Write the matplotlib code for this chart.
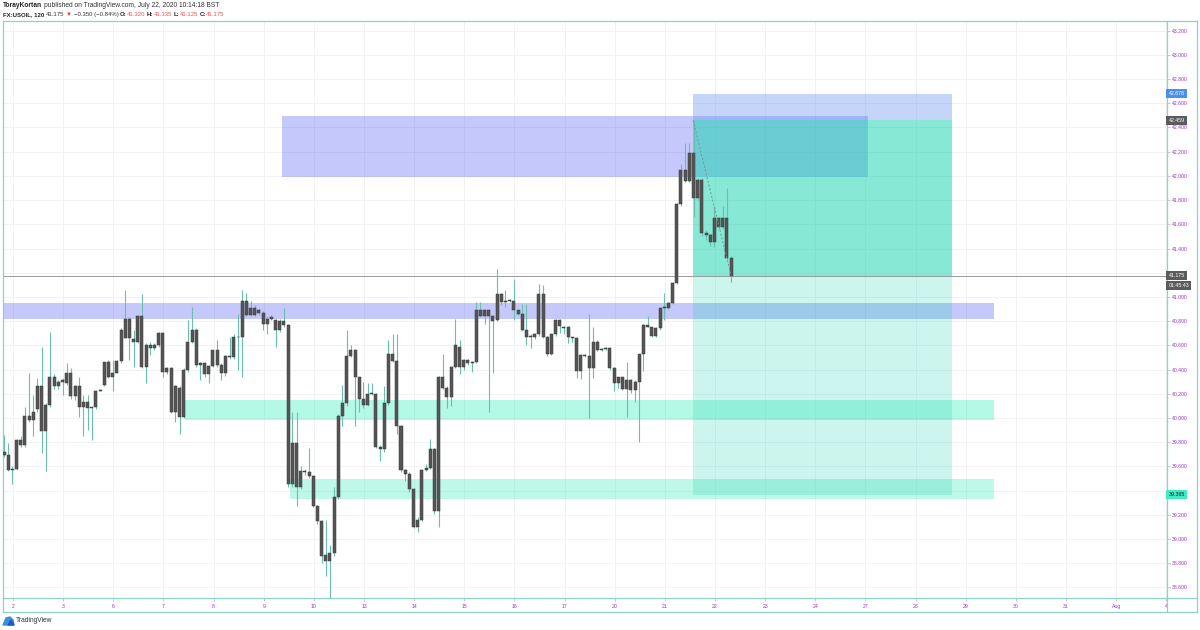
import matplotlib
matplotlib.use("Agg")
import matplotlib.pyplot as plt
import matplotlib.transforms as mtransforms
from matplotlib.patches import Rectangle, Polygon
from matplotlib.lines import Line2D
import numpy as np

# ---------------- data (FX:USOIL, 120 min candles) ----------------
opens = [39.72, 39.69, 39.57, 39.58, 39.82, 39.78, 40.02, 39.98, 40.07, 40.26,
         39.89, 40.11, 40.34, 40.26, 40.30, 40.29, 40.37, 40.18, 40.26, 40.09,
         40.13, 40.08, 40.09, 40.22, 40.27, 40.46, 40.34, 40.37, 40.47, 40.66,
         40.82, 40.65, 40.63, 40.84, 40.42, 40.60, 40.58, 40.60, 40.70, 40.38,
         40.41, 40.05, 40.25, 40.01, 40.40, 40.63, 40.73, 40.44, 40.45, 40.36,
         40.43, 40.56, 40.44, 40.37, 40.51, 40.50, 40.67, 40.67, 40.97, 40.85,
         40.91, 40.865, 40.87, 40.78, 40.82, 40.81, 40.73, 40.80, 40.77, 39.45,
         39.79, 39.43, 39.56, 39.55, 39.52, 39.27, 39.15, 38.87, 38.82, 38.88,
         39.35, 40.02, 40.12, 40.51, 40.56, 40.34, 40.16, 40.11, 40.20, 40.20,
         39.76, 39.74, 40.12, 40.53, 40.47, 39.93, 39.57, 39.54, 39.41, 39.10,
         39.16, 39.57, 39.59, 39.74, 39.23, 40.34, 40.25, 40.17, 40.42, 40.59,
         40.42, 40.48, 40.45, 40.46, 40.89, 40.84, 40.89, 40.84, 40.81, 41.02,
         40.96, 40.975, 40.97, 40.89, 40.86, 40.73, 40.67, 40.67, 40.69, 41.02,
         40.67, 40.53, 40.69, 40.81, 40.75, 40.75, 40.67, 40.66, 40.39, 40.52,
         40.51, 40.41, 40.63, 40.56, 40.567, 40.58, 40.41, 40.29, 40.335, 40.24,
         40.31, 40.23, 40.30, 40.525, 40.77, 40.75, 40.68, 40.74, 40.906, 40.91,
         40.947, 41.118, 41.77, 42.05, 41.96, 42.19, 41.815, 41.97, 41.525, 41.51,
         41.45, 41.65, 41.575, 41.65, 41.32]
highs = [39.86, 39.79, 39.60, 39.83, 39.85, 40.09, 40.37, 40.19, 40.33, 40.59,
         40.12, 40.71, 40.36, 40.31, 40.33, 40.45, 40.41, 40.27, 40.34, 40.19,
         40.19, 40.09, 40.23, 40.24, 40.46, 40.48, 40.48, 40.48, 40.74, 41.06,
         40.83, 40.73, 40.85, 41.02, 40.62, 40.63, 40.62, 40.71, 40.71, 40.42,
         40.42, 40.27, 40.26, 40.41, 40.81, 40.92, 40.74, 40.46, 40.46, 40.44,
         40.56, 40.64, 40.45, 40.52, 40.67, 40.69, 40.86, 41.06, 41.03, 40.97,
         40.93, 40.91, 40.88, 40.84, 40.85, 40.82, 40.82, 40.91, 40.78, 40.05,
         40.05, 39.60, 39.58, 39.75, 39.53, 39.28, 39.16, 39.16, 38.95, 39.43,
         40.03, 40.27, 40.73, 40.60, 40.57, 40.34, 40.30, 40.29, 40.29, 40.21,
         39.78, 40.26, 40.64, 40.69, 40.69, 39.94, 39.58, 39.55, 39.42, 39.18,
         39.58, 39.62, 39.83, 39.75, 40.35, 40.53, 40.26, 40.43, 40.82, 40.64,
         40.49, 40.49, 40.47, 40.96, 40.96, 40.90, 40.90, 40.85, 41.23, 41.03,
         41.06, 40.98, 41.15, 40.90, 40.94, 40.94, 40.69, 40.70, 41.11, 41.10,
         40.68, 40.70, 40.82, 40.82, 40.76, 40.76, 40.67, 40.67, 40.53, 40.53,
         40.86, 40.75, 40.64, 40.58, 40.59, 40.59, 40.42, 40.34, 40.34, 40.46,
         40.32, 40.31, 40.53, 40.78, 40.84, 40.75, 40.75, 40.91, 41.03, 40.96,
         41.12, 41.78, 42.10, 42.27, 42.27, 42.45, 41.98, 41.98, 41.55, 41.53,
         41.75, 41.66, 41.75, 41.90, 41.335]
lows = [39.68, 39.56, 39.45, 39.57, 39.76, 39.76, 39.97, 39.85, 40.05, 39.71,
        39.56, 40.09, 40.24, 40.24, 40.19, 40.27, 40.16, 40.15, 40.01, 39.85,
        39.90, 39.82, 40.07, 40.22, 40.26, 40.33, 40.22, 40.37, 40.45, 40.66,
        40.48, 40.42, 40.62, 40.41, 40.29, 40.52, 40.56, 40.59, 40.34, 40.36,
        40.04, 39.97, 39.87, 40.00, 40.38, 40.62, 40.42, 40.31, 40.34, 40.29,
        40.42, 40.42, 40.31, 40.35, 40.49, 40.49, 40.40, 40.34, 40.84, 40.84,
        40.84, 40.85, 40.73, 40.69, 40.81, 40.59, 40.71, 40.75, 39.43, 39.43,
        39.27, 39.41, 39.53, 39.50, 39.26, 39.12, 38.80, 38.69, 38.51, 38.86,
        39.33, 39.93, 40.10, 40.50, 39.93, 40.05, 40.08, 40.10, 40.19, 39.75,
        39.64, 39.72, 40.11, 40.46, 39.87, 39.55, 39.48, 39.39, 39.09, 39.06,
        39.15, 39.56, 39.58, 39.21, 39.10, 40.24, 40.08, 40.10, 40.41, 40.36,
        40.40, 40.44, 40.38, 40.45, 40.83, 40.78, 40.05, 40.37, 40.80, 40.93,
        40.92, 40.96, 40.81, 40.85, 40.72, 40.60, 40.58, 40.65, 40.68, 40.66,
        40.51, 40.52, 40.68, 40.70, 40.69, 40.62, 40.63, 40.33, 40.32, 40.50,
        40.00, 40.33, 40.55, 40.55, 40.56, 40.40, 40.22, 40.25, 40.23, 40.01,
        40.21, 40.13, 39.80, 40.39, 40.75, 40.67, 40.67, 40.73, 40.81, 40.90,
        40.94, 41.11, 41.75, 41.95, 41.95, 41.66, 41.80, 41.50, 41.47, 41.42,
        41.41, 41.56, 41.56, 41.31, 41.125]
closes = [39.69, 39.57, 39.58, 39.82, 39.78, 40.02, 39.98, 40.05, 40.26, 39.89,
          40.11, 40.34, 40.26, 40.30, 40.31, 40.37, 40.18, 40.26, 40.09, 40.13,
          40.08, 40.09, 40.22, 40.23, 40.46, 40.34, 40.37, 40.47, 40.73, 40.82,
          40.66, 40.63, 40.84, 40.42, 40.60, 40.58, 40.60, 40.70, 40.38, 40.41,
          40.05, 40.26, 40.01, 40.40, 40.63, 40.73, 40.44, 40.45, 40.36, 40.43,
          40.56, 40.44, 40.37, 40.51, 40.50, 40.67, 40.665, 40.97, 40.85, 40.91,
          40.85, 40.89, 40.78, 40.82, 40.83, 40.73, 40.80, 40.77, 39.45, 39.79,
          39.43, 39.56, 39.55, 39.52, 39.27, 39.15, 38.86, 38.82, 38.88, 39.35,
          40.02, 40.12, 40.51, 40.56, 40.34, 40.16, 40.11, 40.20, 40.205, 39.76,
          39.74, 40.12, 40.53, 40.47, 39.93, 39.57, 39.54, 39.41, 39.10, 39.16,
          39.57, 39.59, 39.74, 39.23, 40.34, 40.25, 40.17, 40.42, 40.60, 40.42,
          40.48, 40.45, 40.46, 40.89, 40.84, 40.89, 40.84, 40.80, 41.02, 40.96,
          40.97, 40.965, 40.89, 40.86, 40.73, 40.67, 40.68, 40.69, 41.02, 40.67,
          40.53, 40.69, 40.81, 40.76, 40.745, 40.67, 40.66, 40.39, 40.52, 40.51,
          40.41, 40.63, 40.56, 40.567, 40.58, 40.41, 40.29, 40.335, 40.24, 40.31,
          40.23, 40.30, 40.525, 40.77, 40.755, 40.68, 40.74, 40.906, 40.914, 40.947,
          41.118, 41.77, 42.05, 41.96, 42.19, 41.815, 41.97, 41.525, 41.51, 41.45,
          41.65, 41.575, 41.65, 41.32, 41.175]

day_labels = ['2', '3', '6', '7', '8', '9', '10', '13', '14', '15', '16', '17',
              '20', '21', '22', '23', '24', '27', '28', '29', '30', '31', 'Aug', '4']
price_ticks = [38.6, 38.8, 39.0, 39.2, 39.4, 39.6, 39.8, 40.0, 40.2, 40.4, 40.6,
               40.8, 41.0, 41.2, 41.4, 41.6, 41.8, 42.0, 42.2, 42.4, 42.6, 42.8,
               43.0, 43.2]

# drawn zones: (start bar, end bar, low price, high price)
resistance_box = (66.5, 206.7, 41.995, 42.495)
blue_band = (-2.0, 236.9, 40.818, 40.947)
green_band_upper = (43.3, 236.9, 39.983, 40.145)
green_band_lower = (68.5, 236.9, 39.33, 39.495)
# short position tool
pos_start, pos_end = 164.9, 226.9
entry_price, stop_price, target_price = 42.459, 42.678, 39.365
last_price = closes[-1]

# ---------------- figure ----------------
W, H = 1200, 630
fig = plt.figure(figsize=(12, 6.3), dpi=100)
fig.patch.set_facecolor('white')
FONT = ['Liberation Sans', 'DejaVu Sans']
plt.rcParams['font.family'] = FONT

L, R, T, B = 3, 1167, 21, 598
ax = fig.add_axes([L / W, 1 - B / H, (R - L) / W, (B - T) / H])
ax.set_facecolor('white')
ax.set_xlim(-0.24, 278.3)
ax.set_ylim(38.512, 43.28)

xs = np.arange(len(opens))
o = np.array(opens); c = np.array(closes)
h = np.array(highs); lo = np.array(lows)

# grid
bars_per_day = 12
first_tick = 2.15
day_pos = first_tick + bars_per_day * np.arange(len(day_labels))
for p in price_ticks:
    ax.axhline(p, color='#f2f2f4', lw=0.7, zorder=0)
for d in day_pos:
    ax.axvline(d, color='#f2f2f4', lw=0.7, zorder=0)

def zone(z, color, alpha):
    x0, x1, y0, y1 = z
    ax.add_patch(Rectangle((x0, y0), x1 - x0, y1 - y0, facecolor=color,
                           alpha=alpha, edgecolor='none', zorder=1))

BLUE = '#5662f1'
GREEN = '#29ebb8'
zone(blue_band, BLUE, 0.35)
zone(green_band_upper, GREEN, 0.35)
zone(green_band_lower, GREEN, 0.30)
zone(resistance_box, BLUE, 0.35)
# position tool (drawn over the zones)
zone((pos_start, pos_end, entry_price, stop_price), '#6f96f0', 0.40)
zone((pos_start, pos_end, last_price, entry_price), '#19d3b0', 0.52)
zone((pos_start, pos_end, target_price, last_price), '#19d3b0', 0.22)

# current price line
ax.axhline(last_price, color='#9a9a9a', lw=0.7, zorder=2)

# candles
ax.vlines(xs, lo, h, color='#6cbfb0', lw=0.8, zorder=3)
body_low = np.minimum(o, c)
body_h = np.maximum(np.abs(c - o), 0.007)
ax.bar(xs, body_h, bottom=body_low, width=0.72, color='#555555',
       edgecolor='#3a3a3a', linewidth=0.35, zorder=4)

# dashed line entry -> current
ax.plot([pos_start, xs[-1]], [entry_price, last_price], ls=(0, (2, 2)),
        color='#7f8f8f', lw=0.7, zorder=5)

# axes styling
for s in ax.spines.values():
    s.set_color('#8fd3c8')
    s.set_linewidth(0.9)
ax.yaxis.tick_right()
ax.set_yticks(price_ticks)
# labels hidden behind the last-price and target tags in the reference
covered = {round(last_price, 1), round(target_price, 1)}
ax.set_yticklabels(['' if round(p, 1) in covered else '%.3f' % p
                    for p in price_ticks])
ax.set_xticks(day_pos)
ax.set_xticklabels(day_labels)
ax.tick_params(axis='y', colors='#b0b0b0', labelcolor='#9932cc', labelsize=3.7,
               length=2.2, width=0.5, pad=1.6)
ax.tick_params(axis='x', colors='#b0b0b0', labelcolor='#9932cc', labelsize=3.7,
               length=2.0, width=0.5, pad=2.5)

# price tags on the axis
ytrans = mtransforms.blended_transform_factory(fig.transFigure, ax.transData)
def tag(price, text, fc, tc, dy=0):
    tr = mtransforms.offset_copy(ytrans, fig=fig, y=dy, units='dots')
    fig.text(1168.5 / W, price, text, transform=tr, ha='left', va='center',
             fontsize=3.8, color=tc, zorder=10,
             bbox=dict(boxstyle='square,pad=0.4', fc=fc, ec='none'))
tag(stop_price, '42.678', '#4a8ef0', 'white')
tag(entry_price, '42.459', '#5b5b5b', 'white')
tag(last_price, '%.3f' % last_price, '#5b5b5b', 'white')
tag(last_price, '01:45:43', '#5b5b5b', 'white', dy=-9.5)
tag(target_price, '39.365', '#40ecc4', '#1a1a1a')

# outer frame lines
def fline(x0, y0, x1, y1):
    fig.add_artist(Line2D([x0 / W, x1 / W], [1 - y0 / H, 1 - y1 / H],
                          color='#8fd3c8', lw=0.9))
fline(1197, T, 1197, 612)
fline(L, 612, 1197, 612)
fline(L, B, L, 612)
fline(R, B, R, 612)
fline(R, T, 1197, T)
fline(R, B, 1197, B)

# header text (chained)
renderer = fig.canvas.get_renderer()
def chain(parts, x_px, y_px, size):
    x = x_px
    for s, col, wt, gap in parts:
        t = fig.text(x / W, 1 - y_px / H, s, color=col, fontweight=wt,
                     fontsize=size, ha='left', va='center')
        bb = t.get_window_extent(renderer=renderer)
        x = bb.x1 + gap
    return x

chain([('TorayKortan', '#222222', 'bold', 1.6),
       ('published on TradingView.com, July 22, 2020 10:14:18 BST', '#333333', 'normal', 0)],
      3, 5.5, 4.75)
RED = '#ef5350'
chain([('FX:USOIL, 120', '#222222', 'bold', 1.8),
       ('41.175', '#333333', 'normal', 1.6),
       ('\u25bc', '#e53935', 'normal', 1.6),
       ('\u22120.350 (\u22120.84%)', '#333333', 'normal', 1.6),
       ('O:', '#222222', 'bold', 0.3), ('41.320', RED, 'normal', 1.6),
       ('H:', '#222222', 'bold', 0.3), ('41.335', RED, 'normal', 1.6),
       ('L:', '#222222', 'bold', 0.3), ('41.125', RED, 'normal', 1.6),
       ('C:', '#222222', 'bold', 0.3), ('41.175', RED, 'normal', 0)],
      3, 14.5, 4.3)

# footer logo + text
def fpt(xp, yp):
    return (xp / W, 1 - yp / H)
fig.add_artist(Polygon([fpt(3, 625), fpt(6, 618), fpt(10, 617), fpt(13, 620),
                        fpt(14, 625)], closed=True, transform=fig.transFigure,
                       color='#3d8fe0', zorder=5))
fig.add_artist(Polygon([fpt(8, 625), fpt(11, 620), fpt(14, 625)], closed=True,
                       transform=fig.transFigure, color='#1e5fb8', zorder=6))
fig.text(16 / W, 1 - 621 / H, 'TradingView', fontsize=4.8, color='#333333',
         ha='left', va='center')

fig.savefig('out.png', dpi=100, facecolor='white')
